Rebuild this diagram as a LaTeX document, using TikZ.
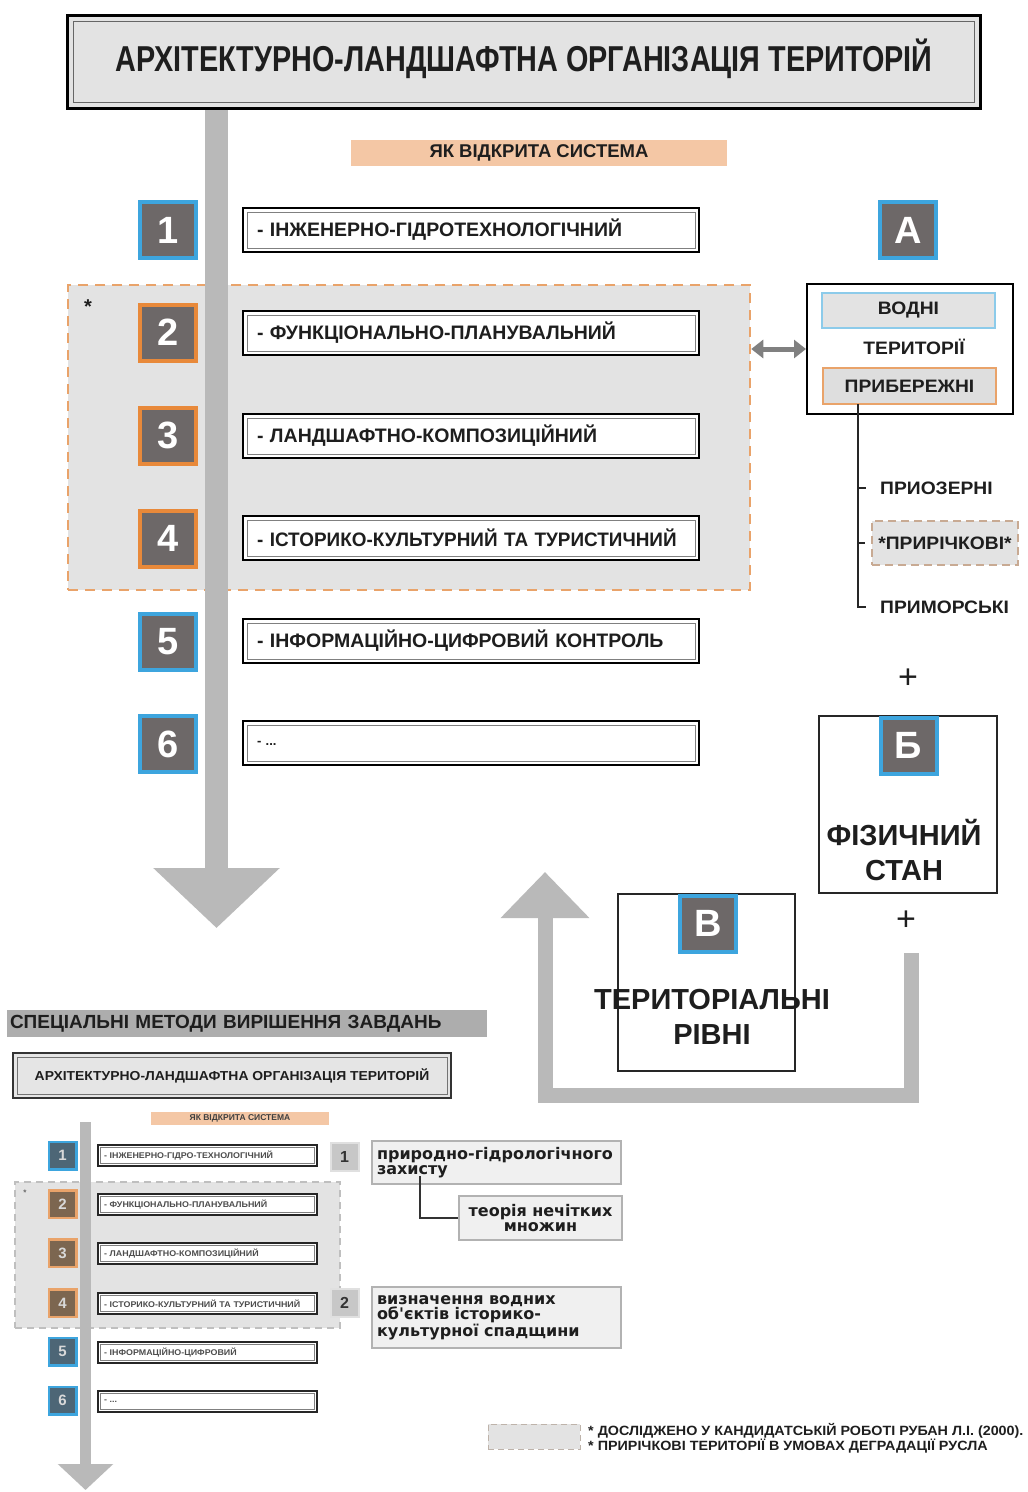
\documentclass[tikz,border=0pt]{standalone}
\usepackage{fontspec}
\setmainfont{Liberation Sans}
\newfontfamily\nar{Liberation Sans}[FakeStretch=0.8]
\newfontfamily\wide{Liberation Sans}[FakeStretch=1.07]
\newfontfamily\dvs{DejaVu Sans}
\usetikzlibrary{arrows.meta}
\newcommand\setfs[2]{\fontsize{#1}{#2}\selectfont}
\definecolor{boxgray}{HTML}{6D6868}
\definecolor{bblue}{HTML}{3DA5DE}
\definecolor{borange}{HTML}{E8893A}
\definecolor{lgray}{HTML}{E3E3E3}
\definecolor{agray}{HTML}{B9B9B9}
\definecolor{peach}{HTML}{F4C7A5}
\definecolor{dorange}{HTML}{E9A36A}
\definecolor{lblue}{HTML}{8CCBEA}
\definecolor{sblue}{HTML}{4D6676}
\definecolor{sbrown}{HTML}{7C6650}
\definecolor{txt}{HTML}{1E1E1E}
\tikzset{
 numbox/.style={draw=bblue, line width=4pt, fill=boxgray, minimum size=56pt, inner sep=0pt, text=white, font=\bfseries\setfs{38}{38}},
 orangenum/.style={numbox, draw=borange},
 itembox/.style={draw=black, line width=2.5pt, fill=white, minimum height=44pt, text width=428pt, inner xsep=14pt, inner ysep=0pt, align=left, text=txt, font=\bfseries\setfs{19.5}{20},
   path picture={\draw[line width=0.8pt, black!50] ([xshift=4pt,yshift=-4pt]path picture bounding box.north west) rectangle ([xshift=-4pt,yshift=4pt]path picture bounding box.south east);}},
 titlebox/.style={draw=black, line width=3pt, fill=lgray, minimum width=913pt, minimum height=93pt, inner sep=0pt, text=txt, font=\nar\bfseries\setfs{36}{36},
   path picture={\draw[line width=1.5pt, black!60] ([xshift=6pt,yshift=-6pt]path picture bounding box.north west) rectangle ([xshift=-6pt,yshift=6pt]path picture bounding box.south east);}},
 label/.style={inner sep=0pt, text=txt, font=\wide\bfseries\setfs{18}{18}},
 biglabel/.style={inner sep=0pt, text=txt, align=center, font=\bfseries\setfs{29}{35}},
 plainbox/.style={draw=black!85, line width=1.5pt, fill=white, inner sep=0pt},
 mainarrow/.style={agray, line width=23pt, -{Triangle[width=123pt,length=60pt]}},
 retarrow/.style={agray, line width=15pt, line join=miter, -{Triangle[width=86pt,length=46pt]}},
 snum/.style={draw=bblue, line width=2.5pt, fill=sblue, minimum size=27.5pt, inner sep=0pt, text=white!85!black, font=\bfseries\setfs{15}{15}},
 sorange/.style={snum, draw=dorange, fill=sbrown},
 sitem/.style={draw=black!85, line width=1.6pt, fill=white, minimum height=21pt, text width=207pt, inner xsep=6pt, inner ysep=0pt, align=left, text=black!70, font=\wide\bfseries\setfs{8.3}{8.5},
   path picture={\draw[line width=0.5pt, black!50] ([xshift=2.5pt,yshift=-2.5pt]path picture bounding box.north west) rectangle ([xshift=-2.5pt,yshift=2.5pt]path picture bounding box.south east);}},
 gnum/.style={fill=black!22, draw=black!12, line width=2pt, minimum size=28pt, inner sep=0pt, text=black!80, font=\bfseries\setfs{16}{16}},
 mbox/.style={fill=black!6, draw=black!30, line width=2pt, inner xsep=5pt, inner ysep=0pt, text=txt, font=\dvs\bfseries\setfs{16}{15.5}},
}
\begin{document}
\begin{tikzpicture}[x=1pt,y=-1pt]
\path[use as bounding box, fill=white] (0,0) rectangle (1028,1492);

% ---------- upper part ----------
\node[fill=lgray, draw=dorange, line width=2.5pt, dash pattern=on 10pt off 7pt, minimum width=682pt, minimum height=305pt, inner sep=0pt] (grp) at (409,437.5) {};
\node[inner sep=0pt, font=\bfseries\setfs{20}{20}, text=txt] (ast) at (88,307) {*};

\coordinate (mtip) at (216.5,928);
\draw[mainarrow] (216.5,100) -- (mtip);

\node[titlebox] (title) at (524,62) {АРХІТЕКТУРНО-ЛАНДШАФТНА ОРГАНІЗАЦІЯ ТЕРИТОРІЙ\rule[-14pt]{0pt}{1pt}};
\node[fill=peach, minimum width=376pt, minimum height=26pt, inner sep=0pt, text=txt, font=\bfseries\setfs{18.5}{18.5}] (open) at (539,153) {ЯК ВІДКРИТА СИСТЕМА};

\foreach \n/\y/\s in {1/230/numbox, 2/332.5/orangenum, 3/435.5/orangenum, 4/538.5/orangenum, 5/642/numbox, 6/744/numbox}
  \node[\s] (n\n) at (168,\y) {\n};

\node[itembox] (i1) at (471,230) {- ІНЖЕНЕРНО-ГІДРОТЕХНОЛОГІЧНИЙ};
\node[itembox] (i2) at (471,333) {- ФУНКЦІОНАЛЬНО-ПЛАНУВАЛЬНИЙ};
\node[itembox] (i3) at (471,436) {- ЛАНДШАФТНО-КОМПОЗИЦІЙНИЙ};
\node[itembox, font=\nar\bfseries\setfs{19.5}{20}] (i4) at (471,538) {\mbox{\fontspec{Liberation Sans}[FakeStretch=0.97]\bfseries - ІСТОРИКО-КУЛЬТУРНИЙ ТА ТУРИСТИЧНИЙ}};
\node[itembox] (i5) at (471,641) {- ІНФОРМАЦІЙНО-ЦИФРОВИЙ КОНТРОЛЬ};
\node[itembox, font=\bfseries\setfs{13}{13}] (i6) at (471,743) {- ...};

% A block
\node[numbox] (A) at (908,230) {А};
\node[draw=black, line width=2pt, fill=white, minimum width=206pt, minimum height=130pt, inner sep=0pt] (tbox) at (910,349) {};
\node[fill=lgray, draw=lblue, line width=2pt, minimum width=173pt, minimum height=35pt, inner sep=0pt, text=txt, font=\wide\bfseries\setfs{18}{18}] (vodni) at (908.5,310.5) {ВОДНІ};
\node[label] (ter) at (914,347) {ТЕРИТОРІЇ};
\node[fill=black!13, draw=dorange, line width=2pt, minimum width=173pt, minimum height=36pt, inner sep=0pt, text=txt, font=\wide\bfseries\setfs{18}{18}] (pryb) at (909.5,386) {ПРИБЕРЕЖНІ};
\draw[black!50, line width=5pt, {Triangle[width=18pt,length=12pt]}-{Triangle[width=18pt,length=12pt]}] (tbox.west -| grp.east) -- (tbox.west);

\node[label, anchor=west] (pryoz) at (880,488) {ПРИОЗЕРНІ};
\node[fill=lgray, draw=dorange!70!black!60, line width=1.5pt, dash pattern=on 8pt off 5pt, minimum width=146pt, minimum height=44pt, inner sep=0pt, text=txt, font=\wide\bfseries\setfs{18}{18}] (pric) at (945,543) {*ПРИРІЧКОВІ*};
\node[label, anchor=west] (prym) at (880,607) {ПРИМОРСЬКІ};
\coordinate (tstart) at (858,404);
\draw[black!85, line width=1.6pt] (tstart) |- ([xshift=-14pt]prym.west);
\draw[black!85, line width=1.6pt] (tstart |- pryoz) -- ([xshift=-14pt]pryoz.west);
\draw[black!85, line width=1.6pt] (tstart |- pric) -- ([xshift=-6pt]pric.west);

\node[inner sep=0pt, font=\setfs{34}{34}, text=txt] (plus1) at (908,679) {+};

% B block
\node[plainbox, minimum width=178pt, minimum height=177pt] (bbox) at (908,804.5) {};
\node[numbox] (B) at (908.5,745.5) {Б};
\node[biglabel] (fiz) at (904,850) {ФІЗИЧНИЙ\\СТАН};
\node[inner sep=0pt, font=\setfs{34}{34}, text=txt] (plus2) at (906,921) {+};

% V block
\node[plainbox, minimum width=177pt, minimum height=177pt, fill=none] (vbox) at (706.5,982.5) {};
\node[numbox] (V) at (708,923.5) {В};
\node[biglabel] (terr) at (712,1017) {ТЕРИТОРІАЛЬНІ\\РІВНІ};

\coordinate (rstart) at (911,953);
\coordinate (rc1) at (911,1095.5);
\coordinate (rc2) at (545,1095.5);
\coordinate (rtip) at (545,872);
\draw[retarrow] (rstart) -- (rc1) -- (rc2) -- (rtip);

% ---------- lower part ----------
\node[fill=black!32, minimum height=27pt, text width=474pt, inner xsep=3pt, inner ysep=0pt, align=left, text=txt, font=\bfseries\setfs{19}{19}] (spec) at (247,1023.5) {СПЕЦІАЛЬНІ МЕТОДИ ВИРІШЕННЯ ЗАВДАНЬ};
\node[fill=black!10, draw=black!80, line width=2pt, minimum width=438pt, minimum height=45pt, inner sep=0pt, text=txt, font=\wide\bfseries\setfs{13}{13},
  path picture={\draw[line width=1pt, black!55] ([xshift=4pt,yshift=-4pt]path picture bounding box.north west) rectangle ([xshift=-4pt,yshift=4pt]path picture bounding box.south east);}] (stitle) at (232,1075.5) {АРХІТЕКТУРНО-ЛАНДШАФТНА ОРГАНІЗАЦІЯ ТЕРИТОРІЙ};
\node[fill=peach, minimum width=178pt, minimum height=13pt, inner sep=0pt, text=black!75, font=\bfseries\setfs{8.5}{8.5}] (sopen) at (240,1118.5) {ЯК ВІДКРИТА СИСТЕМА};

\node[fill=lgray, draw=black!25, line width=1.5pt, dash pattern=on 7pt off 5pt, minimum width=325pt, minimum height=146pt, inner sep=0pt] (sgrp) at (177.5,1255) {};
\node[inner sep=0pt, font=\bfseries\setfs{8}{8}, text=black!60] (sast) at (25,1193) {*};

\coordinate (stip) at (85.5,1490);
\draw[agray, line width=11pt, -{Triangle[width=54pt,length=26pt]}] (85.5,1122) -- (stip);

\foreach \n/\y/\s in {1/1155.5/snum, 2/1204/sorange, 3/1253/sorange, 4/1303/sorange, 5/1351.5/snum, 6/1400.5/snum}
  \node[\s] (sn\n) at (62.5,\y) {\n};

\node[sitem] (si1) at (207.5,1155.5) {- ІНЖЕНЕРНО-ГІДРО-ТЕХНОЛОГІЧНИЙ};
\node[sitem] (si2) at (207.5,1204.5) {- ФУНКЦІОНАЛЬНО-ПЛАНУВАЛЬНИЙ};
\node[sitem] (si3) at (207.5,1253.5) {- ЛАНДШАФТНО-КОМПОЗИЦІЙНИЙ};
\node[sitem] (si4) at (207.5,1303.5) {- ІСТОРИКО-КУЛЬТУРНИЙ ТА ТУРИСТИЧНИЙ};
\node[sitem] (si5) at (207.5,1352.5) {- ІНФОРМАЦІЙНО-ЦИФРОВИЙ};
\node[sitem] (si6) at (207.5,1401.5) {- ...};

\node[gnum] (g1) at (344.5,1157) {1};
\node[gnum] (g2) at (344.5,1302.5) {2};

\node[mbox, minimum width=249pt, minimum height=43pt, text width=239pt, align=left] (m1) at (496.5,1162.5) {природно-гідрологічного\\захисту};
\node[mbox, minimum width=163pt, minimum height=44pt, text width=153pt, align=center] (m1b) at (540.5,1218) {теорія нечітких\\множин};
\node[mbox, minimum width=249pt, minimum height=61pt, text width=239pt, align=left] (m2) at (496.5,1317.5) {визначення водних\\об'єктів історико-\\культурної спадщини};
\draw[black!80, line width=1.5pt] ([xshift=-76.5pt,yshift=9pt]m1.south) |- (m1b.west);

% legend
\node[fill=lgray, draw=dorange!40!black!40, line width=1pt, dash pattern=on 6pt off 4pt, minimum width=92pt, minimum height=25pt, inner sep=0pt] (leg) at (534,1436.5) {};
\node[anchor=west, inner sep=0pt, align=left, text=txt, font=\wide\bfseries\setfs{13.4}{15}] (legtxt) at (588,1438.5) {* ДОСЛІДЖЕНО У КАНДИДАТСЬКІЙ РОБОТІ РУБАН Л.І. (2000).\\* ПРИРІЧКОВІ ТЕРИТОРІЇ В УМОВАХ ДЕГРАДАЦІЇ РУСЛА};
\end{tikzpicture}
\end{document}
